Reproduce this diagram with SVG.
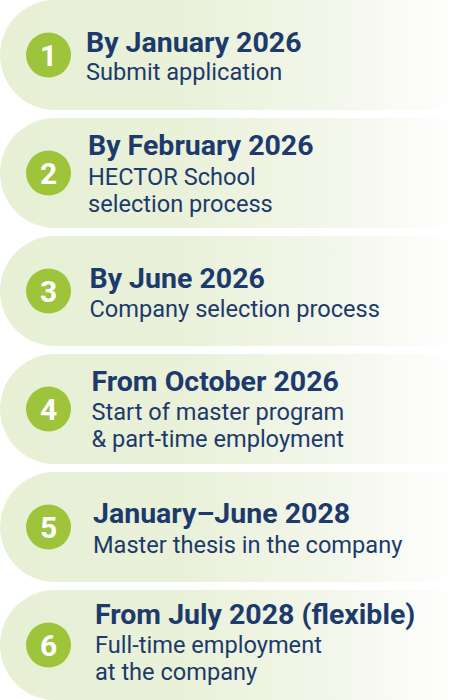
<svg xmlns="http://www.w3.org/2000/svg" width="470" height="700" viewBox="0 0 470 700">
<defs>
<linearGradient id="bandGrad" gradientUnits="userSpaceOnUse" x1="0" y1="0" x2="458" y2="0">
<stop offset="0" stop-color="#e7f0d5"/>
<stop offset="0.4" stop-color="#e9f1d9"/>
<stop offset="0.75" stop-color="#f4f7ec"/>
<stop offset="1" stop-color="#ffffff"/>
</linearGradient>
<style>
.band{fill:url(#bandGrad);}
.dot{fill:#9dc43b;}
.num{font-family:Roboto,"Liberation Sans",sans-serif;font-weight:700;font-size:30px;fill:#ffffff;text-anchor:middle;}
.title{font-family:Roboto,"Liberation Sans",sans-serif;font-weight:700;font-size:28.5px;fill:#1c3a6c;}
.sub{font-family:Roboto,"Liberation Sans",sans-serif;font-weight:400;font-size:23.6px;fill:#1c3a6c;}
</style>
</defs>
<rect width="470" height="700" fill="#ffffff"/>
<g id="step1">
<path class="band" d="M55,0 H458 V110 H55 A55,55 0 0 1 55,0 Z"/>
<circle class="dot" cx="48.5" cy="55" r="22.5"/>
<text class="num" x="48.5" y="66">1</text>
<text class="title" x="86" y="52">By January 2026</text>
<text class="sub" x="86" y="80">Submit application</text>
</g>
<g id="step2">
<path class="band" d="M55,118 H458 V228 H55 A55,55 0 0 1 55,118 Z"/>
<circle class="dot" cx="48.5" cy="173" r="22.5"/>
<text class="num" x="48.5" y="184">2</text>
<text class="title" x="88" y="155">By February 2026</text>
<text class="sub" x="88" y="185">HECTOR School</text>
<text class="sub" x="88" y="212">selection process</text>
</g>
<g id="step3">
<path class="band" d="M55,236 H458 V346 H55 A55,55 0 0 1 55,236 Z"/>
<circle class="dot" cx="48.5" cy="291" r="22.5"/>
<text class="num" x="48.5" y="302">3</text>
<text class="title" x="89.5" y="288">By June 2026</text>
<text class="sub" x="89.5" y="317">Company selection process</text>
</g>
<g id="step4">
<path class="band" d="M55,354 H458 V464 H55 A55,55 0 0 1 55,354 Z"/>
<circle class="dot" cx="48.5" cy="409" r="22.5"/>
<text class="num" x="48.5" y="420">4</text>
<text class="title" x="91.5" y="391">From October 2026</text>
<text class="sub" x="91.5" y="420">Start of master program</text>
<text class="sub" x="91.5" y="447">&amp; part-time employment</text>
</g>
<g id="step5">
<path class="band" d="M55,472 H458 V582 H55 A55,55 0 0 1 55,472 Z"/>
<circle class="dot" cx="48.5" cy="527" r="22.5"/>
<text class="num" x="48.5" y="538">5</text>
<text class="title" x="93" y="523">January–June 2028</text>
<text class="sub" x="93" y="553">Master thesis in the company</text>
</g>
<g id="step6">
<path class="band" d="M55,590 H458 V700 H55 A55,55 0 0 1 55,590 Z"/>
<circle class="dot" cx="48.5" cy="645" r="22.5"/>
<text class="num" x="48.5" y="656">6</text>
<text class="title" x="95" y="624">From July 2028 (flexible)</text>
<text class="sub" x="95" y="653">Full-time employment</text>
<text class="sub" x="95" y="680">at the company</text>
</g>
<g id="connectors"></g>
</svg>
